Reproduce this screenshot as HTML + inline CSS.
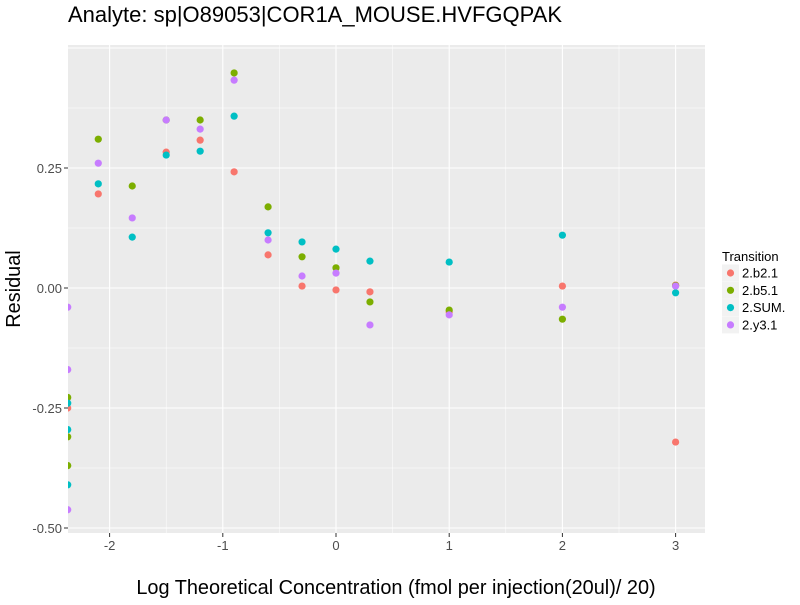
<!DOCTYPE html>
<html><head><meta charset="utf-8"><style>
body{margin:0;background:#fff;font-family:"Liberation Sans",sans-serif}
</style></head><body>
<svg id="c" width="800" height="600" xmlns="http://www.w3.org/2000/svg">
<text x="68" y="22" font-size="22" fill="#000">Analyte: sp|O89053|COR1A_MOUSE.HVFGQPAK</text>
<text x="396" y="594" font-size="19.9" text-anchor="middle" fill="#000">Log Theoretical Concentration (fmol per injection(20ul)/ 20)</text>
<text transform="translate(20,289) rotate(-90)" font-size="19.9" text-anchor="middle" fill="#000">Residual</text>
<g id="grid"></g><g id="pts"></g><g id="ticks"></g>
<g id="legend"></g>
</svg>
<script>
const series = ["2.b2.1","2.b5.1","2.SUM.","2.y3.1"];
const colors = ["#F8766D","#7CAE00","#00BFC4","#C77CFF"];
const xs = [-2.37,-2.1,-1.8,-1.5,-1.2,-0.9,-0.6,-0.3,0,0.3,1,2,3];
const b2 = [[-0.25],[0.196],[],[0.283],[0.308],[0.242],[0.069],[0.004],[-0.004],[-0.008],[-0.05],[0.004],[0.006,-0.321]];
const b5 = [[-0.228,-0.31,-0.37],[0.31],[0.2125],[0.35],[0.35],[0.448],[0.169],[0.065],[0.042],[-0.029],[-0.046],[-0.065],[0.005]];
const sum = [[-0.24,-0.295,-0.41],[0.217],[0.106],[0.277],[0.285],[0.358],[0.115],[0.096],[0.081],[0.056],[0.054],[0.11],[-0.01]];
const y3 = [[-0.04,-0.17,-0.462],[0.26],[0.146],[0.35],[0.331],[0.433],[0.1],[0.025],[0.031],[-0.077],[-0.056],[-0.04],[0.004]];
const xTicks = [-2,-1,0,1,2,3];
const yTicks = [0.25,0,-0.25,-0.5];
const yTickLabels = ["0.25","0.00","-0.25","-0.50"];
const L=68,R=705,T=45,B=533;
const X=v=>336+v*113.2, Y=v=>288-v*480;
const ns="http://www.w3.org/2000/svg";
function mk(t,a,p){const e=document.createElementNS(ns,t);for(const k in a)e.setAttribute(k,a[k]);p.appendChild(e);return e;}
const g=document.getElementById('grid');
const bg=mk('rect',{x:L,y:T,width:R-L,height:B-T,fill:'#EBEBEB'},g);


for(let v=-2.5;v<=3.5;v+=0.5){const px=X(v);if(px<L||px>R)continue;const ln=mk('line',{x1:px,x2:px,y1:T,y2:B,stroke:'#fff','stroke-width':Number.isInteger(v)?1.1:0.5},g);

}
for(let v=-0.625;v<=0.5;v+=0.125){const py=Y(v);if(py<T||py>B)continue;const ln=mk('line',{x1:L,x2:R,y1:py,y2:py,stroke:'#fff','stroke-width':(Math.abs(v*4-Math.round(v*4))<1e-6)?1.1:0.5},g);

}
const cp=mk('clipPath',{id:'cl'},document.getElementById('c'));mk('rect',{x:L,y:T,width:R-L,height:B-T},cp);
const pg=document.getElementById('pts');pg.setAttribute('clip-path','url(#cl)');
[b2,b5,sum,y3].forEach((arr,si)=>{arr.forEach((vals,i)=>vals.forEach(v=>{const c=mk('circle',{cx:X(xs[i]),cy:Y(v),r:3.6,fill:colors[si]},pg);

}));});
const tk=document.getElementById('ticks');
xTicks.forEach(v=>{mk('line',{x1:X(v),x2:X(v),y1:B,y2:B+4,stroke:'#333'},tk);const t=mk('text',{x:X(v),y:B+17,'font-size':13,'text-anchor':'middle',fill:'#4D4D4D'},tk);t.textContent=v;

});
yTicks.forEach((v,i)=>{mk('line',{x1:L-4,x2:L,y1:Y(v),y2:Y(v),stroke:'#333'},tk);const t=mk('text',{x:L-6,y:Y(v)+5,'font-size':13,'text-anchor':'end',fill:'#4D4D4D'},tk);t.textContent=yTickLabels[i];

});
const lg=document.getElementById('legend');
const lt=mk('text',{x:722,y:261,'font-size':13,fill:'#000'},lg);lt.textContent='Transition';


series.forEach((s,i)=>{const y=273+i*17.3;mk('rect',{x:722,y:y-8.5,width:17,height:17,fill:'#F2F2F2'},lg);mk('circle',{cx:730.5,cy:y,r:3.6,fill:colors[i]},lg);const t=mk('text',{x:742,y:y+4.5,'font-size':13,fill:'#000'},lg);t.textContent=s;

});
</script>
</body></html>
